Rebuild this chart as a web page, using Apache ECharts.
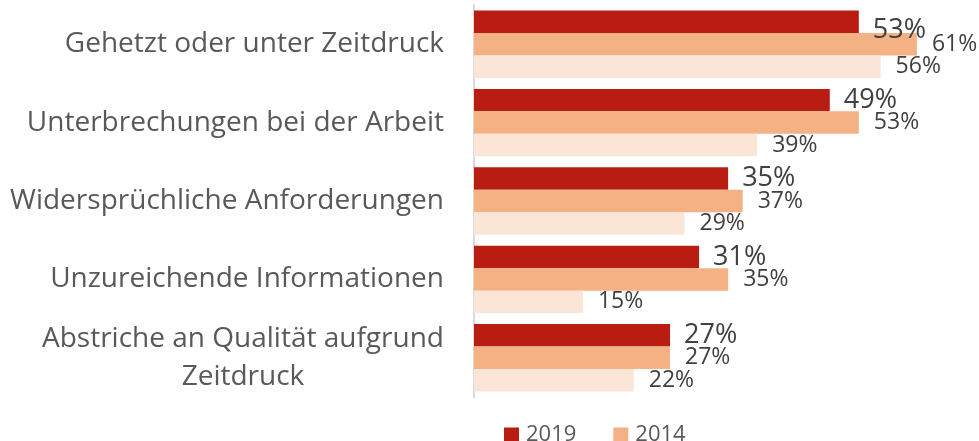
<!DOCTYPE html>
<html>
<head>
<meta charset="utf-8">
<script src="https://cdn.jsdelivr.net/npm/echarts@6/dist/echarts.min.js"></script>
<style>
  html, body { margin: 0; padding: 0; background: #fff; }
  #chart { width: 979px; height: 441px; }
</style>
</head>
<body>
<div id="chart"></div>
<script>
  // Daten
  const categories = [
    'Gehetzt oder unter Zeitdruck',
    'Unterbrechungen bei der Arbeit',
    'Widersprüchliche Anforderungen',
    'Unzureichende Informationen',
    'Abstriche an Qualität aufgrund\nZeitdruck'
  ];
  const values2019 = [53, 49, 35, 31, 27];
  const values2014 = [61, 53, 37, 35, 27];
  const valuesOld = [56, 39, 29, 15, 22]; // dritte Reihe, Legende abgeschnitten

  const font = '"Open Sans", "Noto Sans", sans-serif';
  const textColor = '#595959';
  const labelColor = '#404040';

  const smallLabel = {
    show: true,
    position: 'right',
    distance: 15,
    formatter: '{c}%',
    fontFamily: font,
    fontSize: 23,
    color: labelColor
  };

  // zweizeiliges Label zentriert wie im Original
  const categoryData = categories.map(c =>
    c.indexOf('\n') >= 0 ? { value: c, textStyle: { align: 'center', padding: [0, 402, 0, 0] } } : c
  );

  const chart = echarts.init(document.getElementById('chart'));
  const option = {
    animation: false,
    grid: { left: 474, top: 5, width: 501, height: 392, containLabel: false },
    legend: {
      data: ['2019', '2014'],
      left: 499,
      top: 419,
      itemWidth: 15,
      itemHeight: 15,
      itemGap: 37,
      icon: 'rect',
      textStyle: { fontFamily: font, fontSize: 22, color: textColor, padding: [0, 0, 0, 2] }
    },
    xAxis: {
      type: 'value',
      min: 0,
      max: 69,
      show: false,
      splitLine: { show: false }
    },
    yAxis: {
      type: 'category',
      inverse: true,
      data: categoryData,
      axisTick: { show: false },
      axisLine: { show: true, lineStyle: { color: '#d9d9d9', width: 2 } },
      axisLabel: {
        margin: 30,
        fontFamily: font,
        fontSize: 28,
        color: textColor,
        lineHeight: 38
      }
    },
    series: [
      {
        name: '2019',
        type: 'bar',
        barGap: '0%',
        barCategoryGap: '14%',
        itemStyle: { color: '#B91D12' },
        label: {
          show: true,
          position: 'right',
          distance: 14,
          formatter: '{c}%',
          fontFamily: font,
          fontSize: 27,
          color: labelColor
        },
        data: values2019.map((v, i) => i === 0 ? { value: v, label: { offset: [0, 9] } } : v)
      },
      {
        name: '2014',
        type: 'bar',
        itemStyle: { color: '#F4B183' },
        label: smallLabel,
        data: values2014
      },
      {
        name: '2008',
        type: 'bar',
        itemStyle: { color: '#FBE5D6' },
        label: smallLabel,
        data: valuesOld
      }
    ]
  };
  chart.setOption(option);
</script>
</body>
</html>
